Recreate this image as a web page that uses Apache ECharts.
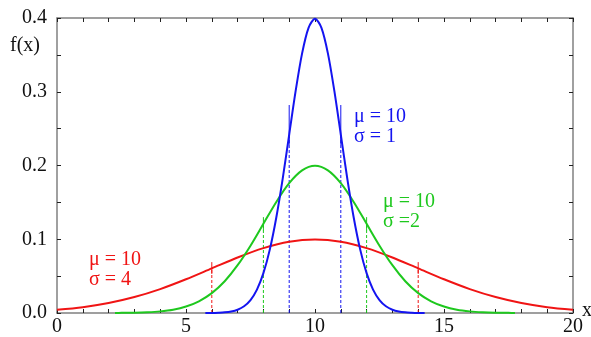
<!DOCTYPE html>
<html>
<head>
<meta charset="utf-8">
<script src="https://cdn.jsdelivr.net/npm/echarts@6/dist/echarts.min.js"></script>
<style>
  html, body { margin: 0; padding: 0; background: #fff; }
  #chart { width: 591px; height: 337px; }
</style>
</head>
<body>
<div id="chart"></div>
<script>
// values
const blueX = [5.75, 6, 6.25, 6.5, 6.75, 7, 7.25, 7.5, 7.75, 8, 8.25, 8.5, 8.75, 9, 9.25, 9.5, 9.75, 10,
  10.25, 10.5, 10.75, 11, 11.25, 11.5, 11.75, 12, 12.25, 12.5, 12.75, 13, 13.25, 13.5, 13.75, 14, 14.25];
const blueY = [0.0000, 0.0001, 0.0004, 0.0009, 0.0020, 0.0044, 0.0091, 0.0175, 0.0317, 0.0540, 0.0863, 0.1295,
  0.1826, 0.2420, 0.3011, 0.3521, 0.3867, 0.3989,
  0.3867, 0.3521, 0.3011, 0.2420, 0.1826, 0.1295, 0.0863, 0.0540, 0.0317, 0.0175, 0.0091, 0.0044, 0.0020,
  0.0009, 0.0004, 0.0001, 0.0000];

const greenX = [2.25, 2.5, 3, 3.5, 4, 4.5, 5, 5.5, 6, 6.5, 7, 7.5, 8, 8.5, 9, 9.5, 10,
  10.5, 11, 11.5, 12, 12.5, 13, 13.5, 14, 14.5, 15, 15.5, 16, 16.5, 17, 17.5, 17.75];
const greenY = [0.0001, 0.0002, 0.0004, 0.0010, 0.0022, 0.0045, 0.0088, 0.0159, 0.0270, 0.0431, 0.0648, 0.0913,
  0.1210, 0.1506, 0.1760, 0.1933, 0.1995,
  0.1933, 0.1760, 0.1506, 0.1210, 0.0913, 0.0648, 0.0431, 0.0270, 0.0159, 0.0088, 0.0045, 0.0022, 0.0010,
  0.0004, 0.0002, 0.0001];

const redX = [0, 1, 2, 3, 4, 5, 6, 7, 8, 9, 10, 11, 12, 13, 14, 15, 16, 17, 18, 19, 20];
const redY = [0.0044, 0.0079, 0.0135, 0.0216, 0.0324, 0.0457, 0.0605, 0.0753, 0.0880, 0.0967, 0.0997,
  0.0967, 0.0880, 0.0753, 0.0605, 0.0457, 0.0324, 0.0216, 0.0135, 0.0079, 0.0044];

// mu +/- sigma markers: x positions, curve height, solid tick extent
const markX = [[9, 11], [8, 12], [6, 14]];
const markY = [0.242, 0.121, 0.0605];
const markTop = [0.282, 0.130, 0.069];
const markBottom = [0.228, 0.112, 0.053];

const xTicks = [0, 5, 10, 15, 20];
const yTicks = [0, 0.1, 0.2, 0.3, 0.4];
const labels = [['μ = 10', 'σ = 1'], ['μ = 10', 'σ =2'], ['μ = 10', 'σ = 4']];

const colors = ['#1414f0', '#1ec81e', '#f01414'];
const FONT = 'Liberation Serif, Times New Roman, DejaVu Serif, serif';

const pairs = (xs, ys) => xs.map((x, i) => [x, ys[i]]);

const chart = echarts.init(document.getElementById('chart'), null, { renderer: 'canvas' });

const axisBase = {
  type: 'value',
  axisLine: { show: true, onZero: false, lineStyle: { color: '#808080', width: 1.5 } },
  axisTick: { show: true, inside: true, length: 4, lineStyle: { color: '#222', width: 1 } },
  minorTick: { show: true, length: 4, lineStyle: { color: '#222', width: 1 } },
  splitLine: { show: false },
  minorSplitLine: { show: false }
};

const markSeries = [];
markX.forEach((xs, k) => {
  xs.forEach((x) => {
    markSeries.push({
      type: 'line', silent: true, symbol: 'none', z: 1,
      data: [[x, 0], [x, markY[k]]],
      lineStyle: { color: colors[k], width: 1, type: [3, 2] }
    });
    markSeries.push({
      type: 'line', silent: true, symbol: 'none', z: 1,
      data: [[x, markBottom[k]], [x, markTop[k]]],
      lineStyle: { color: colors[k], width: 1 }
    });
  });
});

const textStyle = (c) => ({ fill: c, fontSize: 20, fontFamily: FONT });

chart.setOption({
  animation: false,
  backgroundColor: '#fff',
  grid: { left: 57, right: 18, top: 18, bottom: 24, containLabel: false },
  xAxis: [
    Object.assign({}, axisBase, {
      position: 'bottom', min: 0, max: 20, interval: 5,
      minorTick: Object.assign({}, axisBase.minorTick, { splitNumber: 5 }),
      axisLabel: {
        color: '#111', fontFamily: FONT, fontSize: 20, margin: 4,
        formatter: (v) => (xTicks.includes(v) ? String(v) : '')
      }
    }),
    Object.assign({}, axisBase, {
      position: 'top', min: 0, max: 20, interval: 5,
      minorTick: Object.assign({}, axisBase.minorTick, { splitNumber: 5 }),
      axisLabel: { show: false }
    })
  ],
  yAxis: [
    Object.assign({}, axisBase, {
      position: 'left', min: 0, max: 0.4, interval: 0.1,
      minorTick: Object.assign({}, axisBase.minorTick, { splitNumber: 2 }),
      axisLabel: {
        color: '#111', fontFamily: FONT, fontSize: 20, margin: 10,
        formatter: (v) => (yTicks.some((t) => Math.abs(t - v) < 1e-9) ? v.toFixed(1) : '')
      }
    }),
    Object.assign({}, axisBase, {
      position: 'right', min: 0, max: 0.4, interval: 0.1,
      minorTick: Object.assign({}, axisBase.minorTick, { splitNumber: 2 }),
      axisLabel: { show: false }
    })
  ],
  graphic: [
    { type: 'text', left: 10, top: 36, style: Object.assign(textStyle('#111'), { text: 'f(x)' }) },
    { type: 'text', left: 582, top: 301, style: Object.assign(textStyle('#111'), { text: 'x' }) },
    { type: 'text', left: 354, top: 107, style: Object.assign(textStyle(colors[0]), { text: labels[0].join('\n'), lineHeight: 20 }) },
    { type: 'text', left: 383, top: 192, style: Object.assign(textStyle(colors[1]), { text: labels[1].join('\n'), lineHeight: 20 }) },
    { type: 'text', left: 89, top: 250, style: Object.assign(textStyle(colors[2]), { text: labels[2].join('\n'), lineHeight: 20 }) }
  ],
  series: markSeries.concat([
    {
      name: 'sigma4', type: 'line', symbol: 'none', smooth: 0.3, z: 3,
      lineStyle: { color: colors[2], width: 2 },
      data: pairs(redX, redY)
    },
    {
      name: 'sigma2', type: 'line', symbol: 'none', smooth: 0.3, z: 4,
      lineStyle: { color: colors[1], width: 2 },
      data: pairs(greenX, greenY)
    },
    {
      name: 'sigma1', type: 'line', symbol: 'none', smooth: 0.3, z: 5,
      lineStyle: { color: colors[0], width: 2 },
      data: pairs(blueX, blueY)
    }
  ])
});
</script>
</body>
</html>
